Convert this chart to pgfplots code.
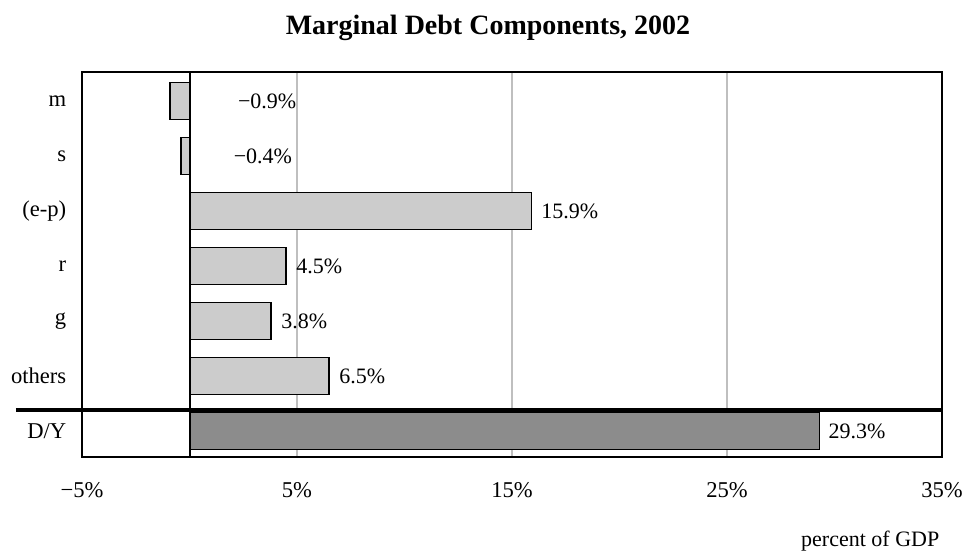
\documentclass[border=0pt]{standalone}
\usepackage{fontspec}
\setmainfont{Liberation Serif}
\usepackage{pgfplots}
\pgfplotsset{compat=1.18}
\begin{document}
\fontsize{11}{13}\selectfont
\begin{tikzpicture}
\begin{axis}[
 name=ax,
 scale only axis, width=430pt, height=192.5pt,
 xmin=-5, xmax=35, ymin=-0.473, ymax=6.527,
 xbar, bar width=18.5pt,
 xtick={-5,5,15,25,35},
 xticklabels={−5\%,5\%,15\%,25\%,35\%},
 ytick={0,1,2,3,4,5,6},
 yticklabels={D/Y,others,g,r,(e-p),s,m},
 major tick length=0pt,
 xmajorgrids, grid style={black!25, line width=0.6pt},
 axis line style={line width=1pt},
 xticklabel style={yshift=-9pt, inner xsep=0pt},
 yticklabel style={xshift=-4pt},
 tick label style={font=\fontsize{11.3}{13}\selectfont},
 clip=false,
]
\addplot[bar shift=0pt, fill=black!20, draw=black, line width=0.8pt,
  nodes near coords={\pgfmathprintnumber[fixed,fixed zerofill,precision=1,assume math mode=true]{\pgfplotspointmeta}\%},
  every node near coord/.append style={font=\fontsize{11}{13}\selectfont, text=black, xshift=1pt}]
  coordinates {(15.9,4) (4.5,3) (3.8,2) (6.5,1)};
\addplot[bar shift=0pt, fill=black!20, draw=black, line width=0.8pt]
  coordinates {(-0.9,6) (-0.4,5)};
\addplot[bar shift=0pt, fill=black!45, draw=black, line width=0.8pt,
  nodes near coords={\pgfmathprintnumber[fixed,fixed zerofill,precision=1,assume math mode=true]{\pgfplotspointmeta}\%},
  every node near coord/.append style={font=\fontsize{11}{13}\selectfont, text=black, xshift=0.5pt}]
  coordinates {(29.3,0)};
\node[anchor=west, font=\fontsize{11}{13}\selectfont] at (axis cs:1.9,6) {−0.9\%};
\node[anchor=west, font=\fontsize{11}{13}\selectfont] at (axis cs:1.7,5) {−0.4\%};
\draw[line width=1pt] (axis cs:0,-0.473) -- (axis cs:0,6.527);
\draw[line width=2pt] ([xshift=-33pt]axis cs:-5,0.382) -- ([xshift=0.5pt]axis cs:35,0.382);
\end{axis}
\node[font=\bfseries\fontsize{14}{16}\selectfont] at ([xshift=-12pt,yshift=22pt]ax.north) {Marginal Debt Components, 2002};
\node[anchor=east, font=\fontsize{11}{13}\selectfont] at ([xshift=2.5pt,yshift=-42pt]ax.south east) {percent of GDP};
\path ([xshift=-41pt,yshift=-47pt]ax.south west) rectangle ([xshift=11pt,yshift=36pt]ax.north east);
\end{tikzpicture}
\end{document}
